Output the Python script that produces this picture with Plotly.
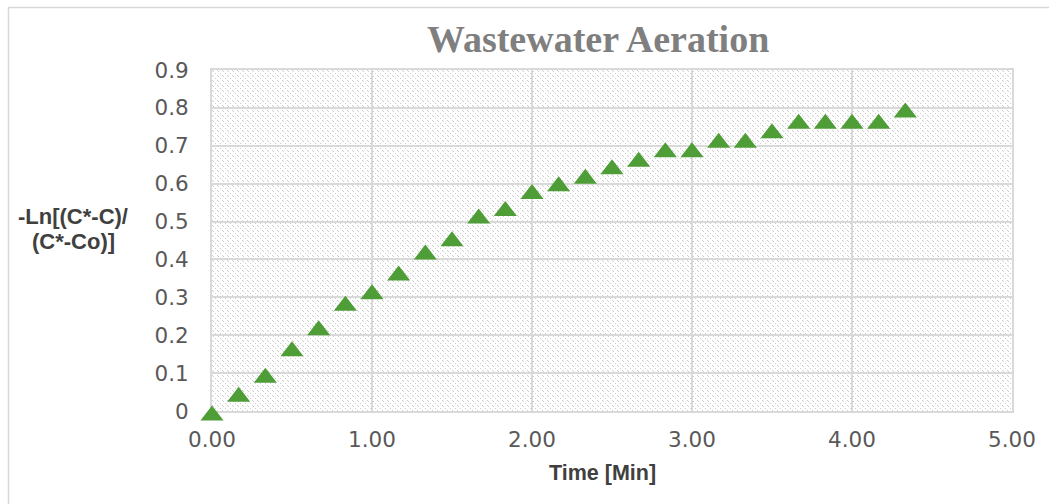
import base64
import plotly.graph_objects as go

# ---- data ----
time_min = [0, 1/6, 2/6, 3/6, 4/6, 5/6, 1, 7/6, 8/6, 9/6, 10/6, 11/6, 2, 13/6, 14/6, 15/6,
            16/6, 17/6, 3, 19/6, 20/6, 21/6, 22/6, 23/6, 4, 25/6, 26/6]
neg_ln = [0.00, 0.05, 0.10, 0.17, 0.225, 0.29, 0.32, 0.37, 0.425, 0.46, 0.52, 0.54, 0.585,
          0.605, 0.625, 0.65, 0.67, 0.695, 0.695, 0.72, 0.72, 0.745, 0.77, 0.77, 0.77, 0.77, 0.80]
x_ticks = [0, 1, 2, 3, 4, 5]
y_ticks = [0, 0.1, 0.2, 0.3, 0.4, 0.5, 0.6, 0.7, 0.8, 0.9]

W, H = 1049, 504
ML, MR, MT, MB = 212, 37, 70, 93
PW, PH = W - ML - MR, H - MT - MB

# hatched plot-area background (Excel "light downward diagonal")
dots = "".join(f'<rect x="{i}" y="{i}" width="1" height="1" fill="#cdcdcd"/>' for i in (0, 1, 3))
svg = f'''<svg xmlns="http://www.w3.org/2000/svg" width="{PW}" height="{PH}" viewBox="0 0 {PW} {PH}" shape-rendering="crispEdges">
<defs><pattern id="p" patternUnits="userSpaceOnUse" width="5" height="5">{dots}</pattern></defs>
<rect width="{PW}" height="{PH}" fill="#ffffff"/>
<rect width="{PW}" height="{PH}" fill="url(#p)"/>
</svg>'''
img_src = "data:image/svg+xml;base64," + base64.b64encode(svg.encode()).decode()

fig = go.Figure()
fig.add_trace(go.Scatter(
    x=time_min, y=neg_ln, mode="markers",
    marker=dict(symbol="triangle-up", angle=0, standoff=4.6, size=20, color="#4f9d36"),
    cliponaxis=False, showlegend=False,
))

def px_x(p):
    return (p - ML) / PW

def px_y(p):
    return (H - MB - p) / PH

axis_common = dict(showgrid=True, gridcolor="#d9d9d9", gridwidth=2, showline=True,
                   linecolor="#d9d9d9", linewidth=2, mirror=True, zeroline=False,
                   ticks="", layer="below traces",
                   tickfont=dict(family="DejaVu Sans", size=21.5, color="#595959"))

fig.update_layout(
    width=W, height=H,
    margin=dict(l=ML, r=MR, t=MT, b=MB),
    paper_bgcolor="white", plot_bgcolor="white",
    xaxis=dict(range=[0, 5], tickvals=x_ticks, tickformat=".2f", ticklabelstandoff=8,
               **axis_common),
    yaxis=dict(range=[0, 0.9], tickvals=y_ticks, ticklabelstandoff=17, **axis_common),
    images=[dict(source=img_src, xref="x domain", yref="y domain", x=0, y=1,
                 sizex=1, sizey=1, xanchor="left", yanchor="top",
                 sizing="stretch", layer="below")],
    shapes=[dict(type="rect", xref="paper", yref="paper",
                 x0=px_x(8.5), x1=px_x(W + 10), y0=px_y(H + 10), y1=px_y(7.5),
                 line=dict(color="#d9d9d9", width=1.5), fillcolor="rgba(0,0,0,0)",
                 layer="below")],
    annotations=[
        dict(text="Wastewater Aeration", xref="paper", yref="paper",
             x=px_x(598), y=px_y(39), xanchor="center", yanchor="middle", showarrow=False,
             font=dict(family="Liberation Serif", size=38, color="#7f7f7f", weight="bold")),
        dict(text="Time [Min]", xref="paper", yref="paper",
             x=px_x(602), y=px_y(473), xanchor="center", yanchor="middle", showarrow=False,
             font=dict(family="Liberation Sans", size=21.5, color="#404040", weight="bold")),
        dict(text="-Ln[(C*-C)/", xref="paper", yref="paper",
             x=px_x(73), y=px_y(217), xanchor="center", yanchor="middle", showarrow=False,
             font=dict(family="Liberation Sans", size=22, color="#404040", weight="bold")),
        dict(text="(C*-Co)]", xref="paper", yref="paper",
             x=px_x(73), y=px_y(241), xanchor="center", yanchor="middle", showarrow=False,
             font=dict(family="Liberation Sans", size=22, color="#404040", weight="bold")),
    ],
)

fig.write_html("out.html")
